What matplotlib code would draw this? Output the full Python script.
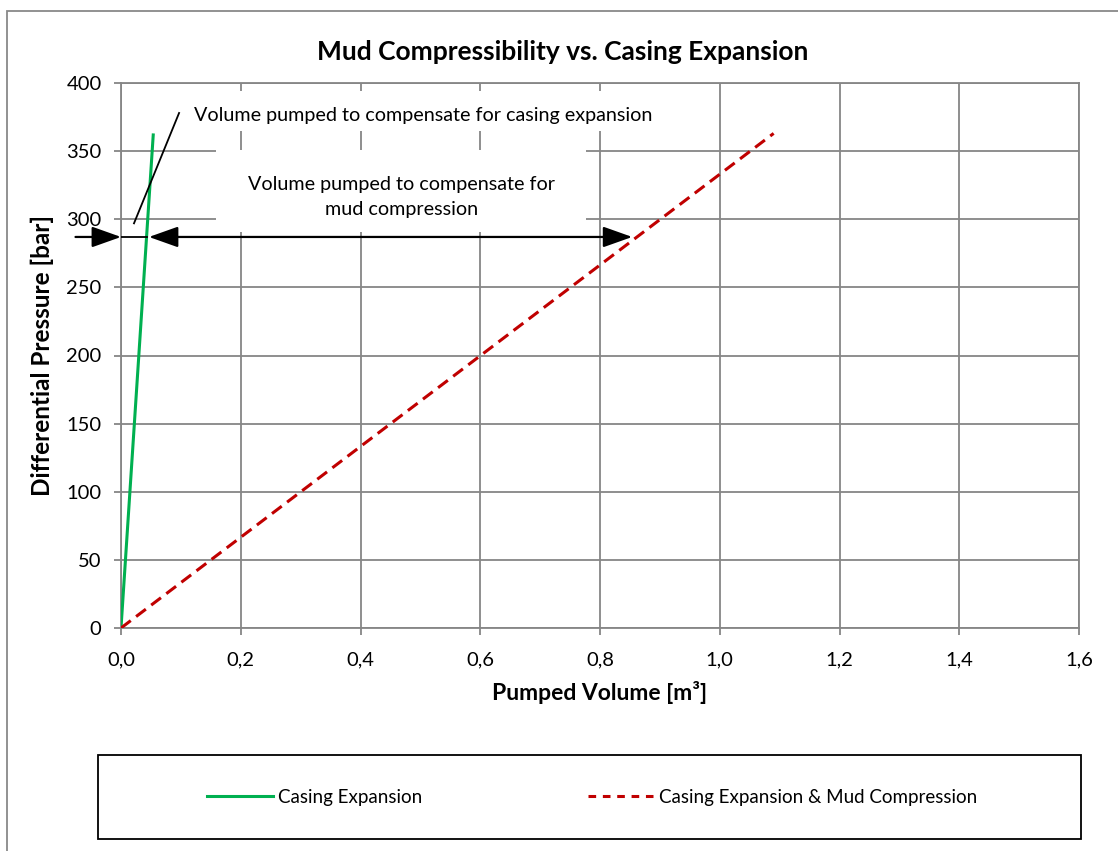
import matplotlib
matplotlib.use("Agg")
import matplotlib.pyplot as plt
from matplotlib.patches import Rectangle
from matplotlib.lines import Line2D

# ---- data ----
volume_casing = [0.0, 0.054]
pressure_casing = [0, 363]
volume_total = [0.0, 1.09]
pressure_total = [0, 363]

x_ticks = [0.0, 0.2, 0.4, 0.6, 0.8, 1.0, 1.2, 1.4, 1.6]
x_tick_labels = ["0,0", "0,2", "0,4", "0,6", "0,8", "1,0", "1,2", "1,4", "1,6"]
y_ticks = [0, 50, 100, 150, 200, 250, 300, 350, 400]
y_tick_labels = ["0", "50", "100", "150", "200", "250", "300", "350", "400"]

arrow_pressure = 287
title = "Mud Compressibility vs. Casing Expansion"
xlabel = "Pumped Volume [m³]"
ylabel = "Differential Pressure [bar]"
label_casing = "Casing Expansion"
label_total = "Casing Expansion & Mud Compression"
note_casing = "Volume pumped to compensate for casing expansion"
note_mud = "Volume pumped to compensate for\nmud compression"

plt.rcParams['font.family'] = ['Lato', 'DejaVu Sans']

W, H = 1118, 851
fig = plt.figure(figsize=(W / 100, H / 100), dpi=100)

# outer chart border
fig.patches.append(Rectangle((7 / W, -0.05), 1.1, 1 - 11 / H + 0.05, transform=fig.transFigure,
                             fill=False, edgecolor='#898989', linewidth=1.3, zorder=0))

ax = fig.add_axes([121 / W, 1 - 628 / H, (1079 - 121) / W, (628 - 83) / H])
ax.set_xlim(0, 1.6)
ax.set_ylim(0, 400)

grid_c = '#868686'
ax.set_xticks(x_ticks)
ax.set_xticklabels(x_tick_labels)
ax.set_yticks(y_ticks)
ax.set_yticklabels(y_tick_labels)
ax.grid(True, color=grid_c, linewidth=1.3, zorder=0)
ax.set_axisbelow(True)
for s in ax.spines.values():
    s.set_color(grid_c)
    s.set_linewidth(1.3)
ax.tick_params(axis='both', length=5, width=1.3, color=grid_c, labelsize=14.5)
ax.tick_params(axis='x', pad=12)
ax.tick_params(axis='y', pad=9)

# lines
l1, = ax.plot(volume_casing, pressure_casing, color='#00B050', linewidth=2.2, zorder=5,
              solid_capstyle='butt')
l2, = ax.plot(volume_total, pressure_total, color='#C00000', linewidth=2.2, zorder=5,
              dashes=(4, 2.2), dash_capstyle='butt')

# white backgrounds for annotation text (cover gridlines)
ax.add_patch(Rectangle((0.100, 365), 0.88 - 0.100, 394 - 365, facecolor='white',
                       edgecolor='none', zorder=2))
ax.add_patch(Rectangle((0.159, 291), 0.777 - 0.159, 350.5 - 291, facecolor='white',
                       edgecolor='none', zorder=2))

ax.text(0.504, 376, note_casing, ha='center', va='center', fontsize=14.2, zorder=6)
ax.text(0.468, 316.5, note_mud, ha='center', va='center', fontsize=14.2, zorder=6,
        linespacing=1.6)

# callout line
ax.plot([0.0217, 0.097], [297, 378], color='black', linewidth=1.3, zorder=6)

# arrows
x_green = volume_casing[1] * arrow_pressure / pressure_casing[1]
x_red = volume_total[1] * arrow_pressure / pressure_total[1]
ax.annotate('', xy=(0.0, arrow_pressure), xytext=(-0.076, arrow_pressure),
            arrowprops=dict(arrowstyle='-|>,head_length=0.9,head_width=0.32', color='black',
                            lw=1.6, shrinkA=0, shrinkB=0, mutation_scale=20),
            annotation_clip=False, zorder=7)
ax.plot([0.0, x_green], [arrow_pressure, arrow_pressure], color='black', linewidth=1.3, zorder=6)
ax.annotate('', xy=(x_red - 0.008, arrow_pressure), xytext=(x_green + 0.004, arrow_pressure),
            arrowprops=dict(arrowstyle='<|-|>,head_length=0.9,head_width=0.32', color='black',
                            lw=1.6, shrinkA=0, shrinkB=0, mutation_scale=20),
            zorder=7)

# labels & title
ax.set_xlabel(xlabel, fontsize=16.5, fontweight='bold')
ax.xaxis.set_label_coords(0.5, -(692 - 628) / (628 - 83))
ax.xaxis.label.set_va('center')
ax.set_ylabel(ylabel, fontsize=17.5, fontweight='bold')
ax.yaxis.set_label_coords(-(121 - 42) / (1079 - 121), 0.5)
ax.yaxis.label.set_va('center')
fig.text(563 / W, 1 - 52 / H, title, ha='center', va='center', fontsize=19, fontweight='bold')

# legend box
fig.patches.append(Rectangle((98 / W, 1 - 839 / H), (1081 - 98) / W, (839 - 755) / H,
                             transform=fig.transFigure, fill=False, edgecolor='black',
                             linewidth=1.3))
h1 = Line2D([], [], color='#00B050', linewidth=2.2)
h2 = Line2D([], [], color='#C00000', linewidth=2.2, dashes=(2.5, 2.2))
fig.legend([h1, h2], [label_casing, label_total], loc='center',
           bbox_to_anchor=(592 / W, 1 - 797 / H), ncol=2, frameon=False, fontsize=13.5,
           handlelength=3.5, handletextpad=0.3, columnspacing=8.8)

fig.savefig('out.png', dpi=100)
